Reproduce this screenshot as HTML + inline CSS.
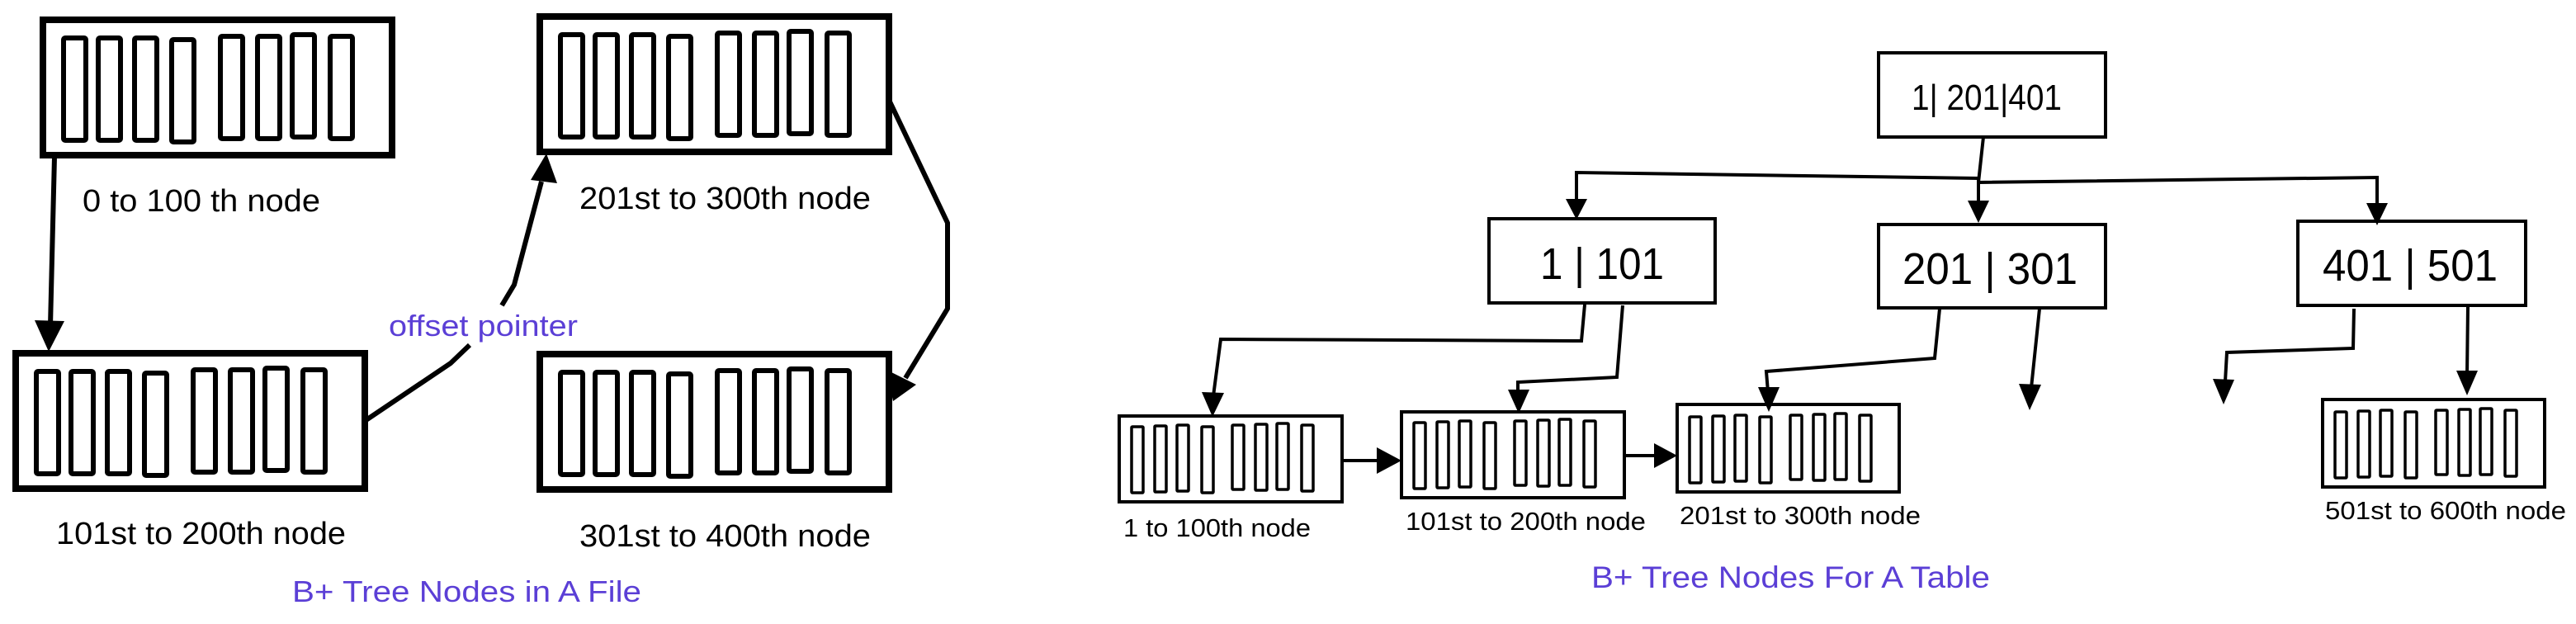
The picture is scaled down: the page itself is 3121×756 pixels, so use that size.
<!DOCTYPE html>
<html><head><meta charset="utf-8"><style>
html,body{margin:0;padding:0;background:#fff;}
svg{display:block;}
text{font-family:"Liberation Sans",Arial,sans-serif;fill:#000;}
</style></head><body>
<svg width="3121" height="756" viewBox="0 0 3121 756" xmlns="http://www.w3.org/2000/svg">
<defs>
<g id="bigbars" fill="none" stroke="#000" stroke-width="6">
<rect x="25" y="22" width="27" height="124" rx="2"/>
<rect x="67" y="22" width="27" height="124" rx="2"/>
<rect x="111" y="22" width="27" height="124" rx="2"/>
<rect x="156" y="24" width="27" height="124" rx="2"/>
<rect x="215" y="20" width="27" height="124" rx="2"/>
<rect x="260" y="20" width="27" height="124" rx="2"/>
<rect x="302" y="18" width="27" height="124" rx="2"/>
<rect x="348" y="20" width="27" height="124" rx="2"/>
</g>
<g id="leafbars" fill="none" stroke="#000" stroke-width="3.5">
<rect x="15" y="13" width="14" height="80" rx="1"/>
<rect x="43" y="12" width="14" height="80" rx="1"/>
<rect x="70" y="11" width="14" height="80" rx="1"/>
<rect x="100" y="13" width="14" height="80" rx="1"/>
<rect x="137" y="11" width="14" height="78" rx="1"/>
<rect x="165" y="10" width="14" height="80" rx="1"/>
<rect x="191" y="9" width="14" height="80" rx="1"/>
<rect x="221" y="11" width="14" height="80" rx="1"/>
</g>
</defs>

<!-- LEFT DIAGRAM -->
<g fill="none" stroke="#000" stroke-width="8">
<rect x="52" y="24" width="423" height="164"/>
<rect x="654" y="20" width="423" height="164"/>
<rect x="19" y="428" width="423" height="164"/>
<rect x="654" y="429" width="423" height="164"/>
</g>
<use href="#bigbars" x="52" y="24"/>
<use href="#bigbars" x="654" y="20"/>
<use href="#bigbars" x="19" y="428"/>
<use href="#bigbars" x="654" y="429"/>

<g fill="none" stroke="#000" stroke-width="6" stroke-linejoin="round">
<polyline points="66,190 61,395"/>
<polyline points="442,510 546,440 569,418"/>
<polyline points="608,370 623,345 656,220"/>
<polyline points="1077,121 1148,270 1148,374 1097,458"/>
</g>
<g fill="#000">
<polygon points="59,426 42,388 78,389"/>
<polygon points="662,186 643,218 675,222"/>
<polygon points="1082,486 1074,448 1110,466"/>
</g>

<text x="100" y="256" font-size="38" textLength="288" lengthAdjust="spacingAndGlyphs">0 to 100 th node</text>
<text x="702" y="253" font-size="38" textLength="353" lengthAdjust="spacingAndGlyphs">201st to 300th node</text>
<text x="68" y="659" font-size="38" textLength="351" lengthAdjust="spacingAndGlyphs">101st to 200th node</text>
<text x="702" y="662" font-size="38" textLength="353" lengthAdjust="spacingAndGlyphs">301st to 400th node</text>
<text x="471" y="407" font-size="36" style="fill:#5b3fd6" textLength="229" lengthAdjust="spacingAndGlyphs">offset pointer</text>
<text x="354" y="729" font-size="36" style="fill:#5b3fd6" textLength="423" lengthAdjust="spacingAndGlyphs">B+ Tree Nodes in A File</text>

<!-- RIGHT DIAGRAM -->
<g fill="none" stroke="#000" stroke-width="4">
<rect x="2276" y="64" width="275" height="102"/>
<rect x="1804" y="265" width="274" height="102"/>
<rect x="2276" y="272" width="275" height="101"/>
<rect x="2784" y="268" width="276" height="102"/>
<rect x="1356" y="504" width="270" height="104"/>
<rect x="1698" y="499" width="270" height="104"/>
<rect x="2032" y="490" width="269" height="106"/>
<rect x="2814" y="484" width="269" height="106"/>
</g>
<use href="#leafbars" x="1356" y="504"/>
<use href="#leafbars" x="1698" y="499"/>
<use href="#leafbars" x="2032" y="492"/>
<use href="#leafbars" x="2814" y="486"/>

<g fill="none" stroke="#000" stroke-width="4" stroke-linejoin="miter">
<polyline points="2403,166 2397,221"/>
<polyline points="1910,248 1910,209 2397,216"/>
<polyline points="2397,221 2880,215 2880,250"/>
<polyline points="2397,216 2397,250"/>
<polyline points="1920,369 1916,413 1479,411 1470,480"/>
<polyline points="1966,370 1959,457 1839,463 1839,478"/>
<polyline points="2350,374 2344,434 2140,450 2142,475"/>
<polyline points="2471,374 2461,470"/>
<polyline points="2852,374 2851,422 2698,427 2696,462"/>
<polyline points="2990,371 2989,455"/>
<polyline points="1626,558 1672,558"/>
<polyline points="1968,552 2008,552"/>
</g>
<g fill="#000">
<polygon points="1910,266 1897,241 1923,241"/>
<polygon points="2397,270 2384,243 2410,243"/>
<polygon points="2880,273 2867,246 2893,246"/>
<polygon points="1469,505 1456,475 1483,476"/>
<polygon points="1840,501 1827,472 1853,472"/>
<polygon points="2143,499 2130,469 2156,469"/>
<polygon points="2459,497 2446,465 2473,466"/>
<polygon points="2694,490 2681,459 2707,460"/>
<polygon points="2989,479 2976,449 3002,449"/>
<polygon points="1698,558 1668,542 1668,574"/>
<polygon points="2032,552 2004,537 2004,567"/>
</g>

<text x="2316" y="133" font-size="44" textLength="182" lengthAdjust="spacingAndGlyphs">1| 201|401</text>
<text x="1866" y="338" font-size="54" textLength="150" lengthAdjust="spacingAndGlyphs">1 | 101</text>
<text x="2305" y="344" font-size="54" textLength="212" lengthAdjust="spacingAndGlyphs">201 | 301</text>
<text x="2814" y="340" font-size="54" textLength="212" lengthAdjust="spacingAndGlyphs">401 | 501</text>
<text x="1361" y="650" font-size="31" textLength="227" lengthAdjust="spacingAndGlyphs">1 to 100th node</text>
<text x="1703" y="642" font-size="31" textLength="291" lengthAdjust="spacingAndGlyphs">101st to 200th node</text>
<text x="2035" y="635" font-size="31" textLength="292" lengthAdjust="spacingAndGlyphs">201st to 300th node</text>
<text x="2817" y="629" font-size="31" textLength="292" lengthAdjust="spacingAndGlyphs">501st to 600th node</text>
<text x="1928" y="712" font-size="37" style="fill:#5b3fd6" textLength="483" lengthAdjust="spacingAndGlyphs">B+ Tree Nodes For A Table</text>
</svg>
</body></html>
